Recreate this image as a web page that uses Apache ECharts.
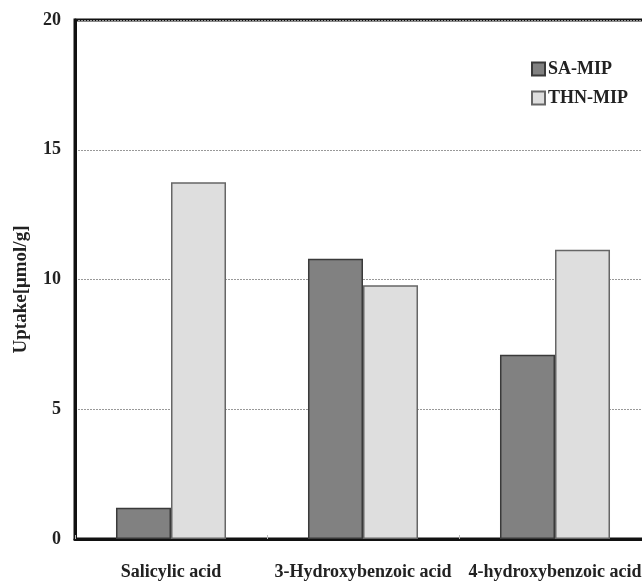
<!DOCTYPE html>
<html>
<head>
<meta charset="utf-8">
<script src="https://cdn.jsdelivr.net/npm/echarts@6/dist/echarts.min.js"></script>
<style>
html,body{margin:0;padding:0;background:#fff;}
#main{width:642px;height:582px;}
</style>
</head>
<body>
<div id="main"></div>
<script>
var categories = ['Salicylic acid', '3-Hydroxybenzoic acid', '4-hydroxybenzoic acid'];
var saMip = [1.2, 10.8, 7.1];
var thnMip = [13.75, 9.78, 11.15];
var seriesNames = ['SA-MIP', 'THN-MIP'];
var yTicks = [0, 5, 10, 15, 20];

var FONT = '"Liberation Serif", "Times New Roman", serif';
var chart = echarts.init(document.getElementById('main'), null, {renderer: 'canvas'});
chart.setOption({
  animation: false,
  backgroundColor: '#fff',
  grid: {
    left: 75, top: 20, width: 576, height: 519,
    outerBoundsMode: 'none',
    containLabel: false,
    show: true, borderColor: '#111', borderWidth: 3, backgroundColor: 'transparent'
  },
  legend: {
    orient: 'vertical',
    left: 526, top: 55,
    itemWidth: 13, itemHeight: 13, itemGap: 11,
    icon: 'rect',
    textStyle: {fontFamily: FONT, fontWeight: 'bold', fontSize: 18, color: '#222', padding: [0,0,0,-2]},
    data: seriesNames
  },
  xAxis: {
    type: 'category',
    data: categories,
    axisLine: {lineStyle: {color: '#111', width: 3}},
    axisTick: {show: true, inside: true, length: 4, lineStyle: {color: '#bbb'}},
    axisLabel: {fontFamily: FONT, fontWeight: 'bold', fontSize: 18, color: '#222', margin: 24, interval: 0}
  },
  yAxis: {
    type: 'value',
    min: 0, max: 20, interval: 5,
    name: 'Uptake[\u03bcmol/g]',
    nameLocation: 'middle',
    nameGap: 44,
    nameTextStyle: {fontFamily: FONT, fontWeight: 'bold', fontSize: 19, color: '#222', padding: [0, 20, 0, 0]},
    axisLine: {show: true, lineStyle: {color: '#111', width: 3}},
    axisTick: {show: false},
    axisLabel: {fontFamily: FONT, fontWeight: 'bold', fontSize: 18, color: '#222', margin: 14,
      formatter: function (v) { return yTicks.indexOf(v) >= 0 ? String(v) : ''; }},
    splitLine: {show: true, lineStyle: {color: '#999', width: 1, type: [2, 1]}}
  },
  series: [
    {
      name: seriesNames[0], type: 'bar', data: saMip,
      barGap: '0%', barCategoryGap: '42.7%',
      itemStyle: {color: '#818181', borderColor: '#3a3a3a', borderWidth: 1.5}
    },
    {
      name: seriesNames[1], type: 'bar', data: thnMip,
      barGap: '0%', barCategoryGap: '42.7%',
      itemStyle: {color: '#dedede', borderColor: '#666', borderWidth: 1.5}
    }
  ]
});
</script>
</body>
</html>
